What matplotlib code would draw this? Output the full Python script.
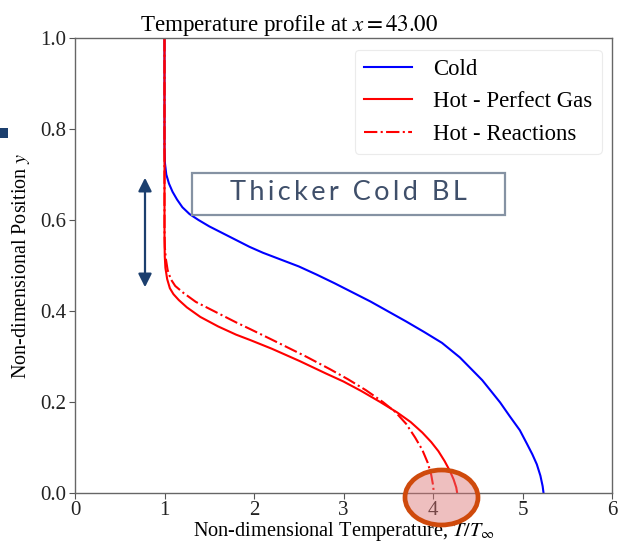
import matplotlib
matplotlib.use("Agg")
import matplotlib.pyplot as plt
from matplotlib.patches import Ellipse, Rectangle, FancyArrowPatch

# ---- data ----
cold_T = [1.0, 1.0, 1.005, 1.02, 1.05, 1.09, 1.14, 1.20, 1.28, 1.38, 1.50, 1.65, 1.80, 1.95, 2.10, 2.30,
          2.50, 2.70, 2.90, 3.10, 3.30, 3.50, 3.70, 3.90, 4.10, 4.30, 4.45, 4.55, 4.64, 4.75, 4.86, 4.97,
          5.05, 5.11, 5.16, 5.20, 5.225, 5.235]
cold_y = [1.0, 0.76, 0.725, 0.700, 0.680, 0.662, 0.645, 0.628, 0.613, 0.600, 0.586, 0.571, 0.556, 0.541,
          0.528, 0.513, 0.498, 0.480, 0.461, 0.441, 0.421, 0.399, 0.377, 0.354, 0.330, 0.298, 0.268, 0.248,
          0.226, 0.199, 0.168, 0.138, 0.108, 0.085, 0.063, 0.038, 0.015, 0.0]

hot_pg_T = [1.0, 1.0, 1.003, 1.01, 1.03, 1.06, 1.10, 1.16, 1.25, 1.40, 1.60, 1.80, 1.96, 2.20, 2.51, 2.80,
            3.00, 3.20, 3.41, 3.60, 3.75, 3.88, 3.98, 4.06, 4.13, 4.19, 4.23, 4.26, 4.27]
hot_pg_y = [1.0, 0.56, 0.52, 0.495, 0.470, 0.450, 0.437, 0.424, 0.408, 0.387, 0.366, 0.348, 0.336, 0.317,
            0.290, 0.263, 0.245, 0.224, 0.200, 0.177, 0.156, 0.133, 0.112, 0.092, 0.070, 0.048, 0.030,
            0.012, 0.0]

hot_re_T = [1.0, 1.0, 1.004, 1.015, 1.035, 1.07, 1.12, 1.21, 1.35, 1.59, 1.80, 1.96, 2.20, 2.59, 2.85,
            3.05, 3.25, 3.44, 3.58, 3.70, 3.80, 3.88, 3.94, 3.98, 4.00, 4.01]
hot_re_y = [1.0, 0.58, 0.54, 0.515, 0.490, 0.470, 0.455, 0.440, 0.420, 0.396, 0.375, 0.360, 0.337, 0.299,
            0.272, 0.250, 0.226, 0.200, 0.178, 0.152, 0.122, 0.095, 0.067, 0.040, 0.018, 0.0]

xticks = [0, 1, 2, 3, 4, 5, 6]
yticks = [0.0, 0.2, 0.4, 0.6, 0.8, 1.0]

plt.rcParams['font.family'] = ['Liberation Serif', 'DejaVu Serif']
plt.rcParams['mathtext.fontset'] = 'stix'

fig = plt.figure(figsize=(6.2, 5.44), dpi=100)
ax = fig.add_axes([75/620, 1-493/544, (612-75)/620, (493-38)/544])

ax.plot(cold_T, cold_y, color='#0000ff', lw=1.5, label='Cold')
ax.plot(hot_pg_T, hot_pg_y, color='#ff0000', lw=1.5, label='Hot - Perfect Gas')
ax.plot(hot_re_T, hot_re_y, color='#ff0000', lw=1.5, ls='-.', label='Hot - Reactions')

ax.set_xlim(0, 6)
ax.set_ylim(0, 1)
ax.set_xticks(xticks)
ax.set_xticklabels([str(t) for t in xticks])
ax.set_yticks(yticks)
ax.set_yticklabels([f"{t:.1f}" for t in yticks])
ax.tick_params(labelsize=15, length=4, width=0.8, color='#555555', pad=2, labelcolor='#222222')
for s in ax.spines.values():
    s.set_color('#666666')
    s.set_linewidth(1.0)

ax.set_title(r'Temperature profile at $x = 43.00$', fontsize=16.6, pad=4, x=(289-75)/537)
ax.set_xlabel(r'Non-dimensional Temperature, $T/T_\infty$', fontsize=14.6, labelpad=0)
ax.set_ylabel(r'Non-dimensional Position $y$', fontsize=14.5, labelpad=6)

leg = ax.legend(loc='upper right', fontsize=16.4, frameon=True, fancybox=True,
                handlelength=2.1, borderpad=0.4, labelspacing=0.5, handletextpad=0.95,
                borderaxespad=0, bbox_to_anchor=(0.981, 0.974))
leg.get_frame().set_edgecolor('#e6e6e6')
leg.get_frame().set_linewidth(0.8)

# annotation box "Thicker Cold BL"
fig.text((192+505)/2/620, 1-(171+215)/2/544, 'T\u2009h\u2009i\u2009c\u2009k\u2009e\u2009r  C\u2009o\u2009l\u2009d  B\u2009L',
         fontsize=19.5, family=['Lato', 'DejaVu Sans'], fontweight='normal', color='#3f4f6a',
         ha='center', va='center')
fig.patches.append(Rectangle((192/620, 1-215/544), (505-192)/620, (215-173)/544,
                             transform=fig.transFigure, fill=False,
                             edgecolor='#8592a3', linewidth=1.6, figure=fig))

# double-headed arrow
arr = FancyArrowPatch((145/620, 1-290/544), (145/620, 1-175/544), transform=fig.transFigure,
                      arrowstyle='<|-|>,head_length=5,head_width=2.5', color='#1c3f6e',
                      lw=1.6, mutation_scale=1.6, figure=fig)
fig.patches.append(arr)

# orange ellipse at bottom
ell = Ellipse((441.5/620, 1-497.5/544), 73/620, 55/544, transform=fig.transFigure,
              facecolor=(0.86, 0.45, 0.45, 0.45), edgecolor='#cf4a0c', linewidth=3.4, figure=fig)
fig.patches.append(ell)

# small navy mark at left edge
fig.patches.append(Rectangle((0, 1-138/544), 8/620, 10/544, transform=fig.transFigure,
                             facecolor='#1c3f6e', edgecolor='none', figure=fig))

fig.savefig('out.png', dpi=100)
